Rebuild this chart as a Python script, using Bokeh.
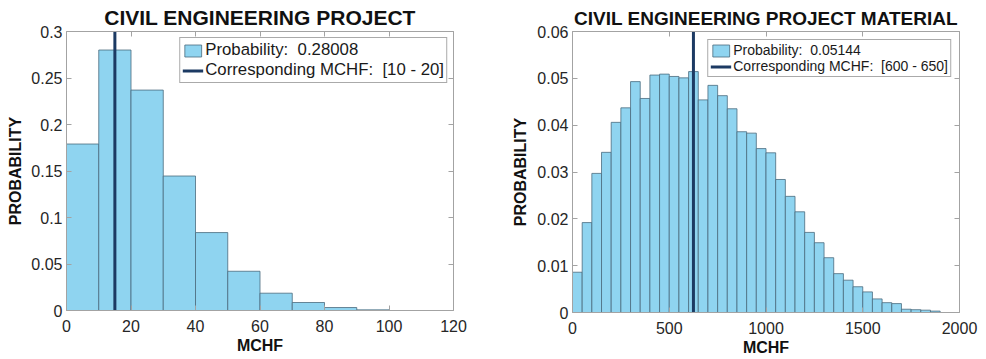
from bokeh.plotting import figure
from bokeh.models import Range1d, FixedTicker, LinearAxis, Legend, LegendItem
from bokeh.layouts import row
from bokeh.embed import file_html
from bokeh.resources import INLINE

# ---------------- data ----------------
left_title = "CIVIL ENGINEERING PROJECT"
left_edges = [0, 10, 20, 30, 40, 50, 60, 70, 80, 90, 100]
left_probs = [0.179, 0.28008, 0.237, 0.1446, 0.0838, 0.0422, 0.0186, 0.0086, 0.0032, 0.0007]
left_mark = 15
left_legend_prob = "Probability:\u00a0 0.28008"
left_legend_line = "Corresponding MCHF:\u00a0 [10 - 20]"
left_xticks = [0, 20, 40, 60, 80, 100, 120]
left_yticks = [0, 0.05, 0.1, 0.15, 0.2, 0.25, 0.3]
left_yticklabels = ["0", "0.05", "0.1", "0.15", "0.2", "0.25", "0.3"]
left_xlim = (0, 120)
left_ylim = (0, 0.3)

right_title = "CIVIL ENGINEERING PROJECT MATERIAL"
right_edges = [0, 50, 100, 150, 200, 250, 300, 350, 400, 450, 500, 550, 600, 650, 700,
               750, 800, 850, 900, 950, 1000, 1050, 1100, 1150, 1200, 1250, 1300, 1350,
               1400, 1450, 1500, 1550, 1600, 1650, 1700, 1750, 1800, 1850, 1900]
right_probs = [0.0086, 0.0192, 0.0297, 0.0342, 0.0406, 0.0437, 0.0493, 0.0457, 0.0507,
               0.0509, 0.0504, 0.0501, 0.05144, 0.0454, 0.0485, 0.0463, 0.0435, 0.0386,
               0.0383, 0.0350, 0.0341, 0.0284, 0.0248, 0.0215, 0.0171, 0.0149, 0.0117,
               0.0083, 0.0069, 0.0055, 0.0044, 0.0029, 0.0021, 0.0019, 0.0007, 0.0006,
               0.0005, 0.0003]
right_mark = 625
right_legend_prob = "Probability:\u00a0 0.05144"
right_legend_line = "Corresponding MCHF:\u00a0 [600 - 650]"
right_xticks = [0, 500, 1000, 1500, 2000]
right_yticks = [0, 0.01, 0.02, 0.03, 0.04, 0.05, 0.06]
right_yticklabels = ["0", "0.01", "0.02", "0.03", "0.04", "0.05", "0.06"]
right_xlim = (0, 2000)
right_ylim = (0, 0.06)

x_label = "MCHF"
y_label = "PROBABILITY"

FONT = "Liberation Sans"
BAR_FILL = "#8fd4f0"
BAR_EDGE = "#4a6b7e"
LINE_COL = "#1c3a63"
AX_COL = "#a3a3a3"
TXT_COL = "#262626"


def make_plot(title, edges, probs, mark, lp, ll, xticks, yticks, yticklabels, xlim, ylim,
              fh, bl, br, bt, bb, title_size, title_standoff, legend_size, row_h, legend_margin,
              ylab_standoff, legend_pad):
    p = figure(frame_width=387, frame_height=fh, output_backend="svg", toolbar_location=None,
               x_range=Range1d(*xlim), y_range=Range1d(*ylim),
               min_border_left=bl, min_border_right=br, min_border_top=bt, min_border_bottom=bb,
               x_axis_type=None, y_axis_type=None)
    p.title.text = title
    p.title.align = "center"
    p.title.text_font = FONT
    p.title.text_font_style = "bold"
    p.title.text_font_size = title_size
    p.title.text_color = "#111111"
    p.title.standoff = title_standoff
    p.title.offset = 0
    p.outline_line_color = None
    p.xgrid.visible = False
    p.ygrid.visible = False
    p.background_fill_color = "white"
    p.border_fill_color = "white"

    # main axes
    xa = LinearAxis(ticker=FixedTicker(ticks=xticks), axis_label=x_label)
    ya = LinearAxis(ticker=FixedTicker(ticks=yticks), axis_label=y_label,
                    major_label_overrides=dict(zip(yticks, yticklabels)))
    for ax in (xa, ya):
        ax.axis_line_color = AX_COL
        ax.major_tick_line_color = AX_COL
        ax.major_tick_in = 5
        ax.major_tick_out = 0
        ax.minor_tick_line_color = None
        ax.major_label_text_font = FONT
        ax.major_label_text_font_size = "16px"
        ax.major_label_text_color = TXT_COL
        ax.axis_label_text_font = FONT
        ax.axis_label_text_font_style = "bold"
        ax.axis_label_text_font_size = "16px"
        ax.axis_label_text_color = "#111111"
    xa.major_label_standoff = 9
    xa.axis_label_standoff = 2
    ya.major_label_standoff = 4
    ya.axis_label_standoff = ylab_standoff
    p.add_layout(xa, "below")
    p.add_layout(ya, "left")

    # box axes (ticks only, no labels drawn)
    xt = LinearAxis(ticker=FixedTicker(ticks=xticks))
    yr = LinearAxis(ticker=FixedTicker(ticks=yticks))
    for ax in (xt, yr):
        ax.axis_line_color = AX_COL
        ax.major_tick_line_color = AX_COL
        ax.major_tick_in = 5
        ax.major_tick_out = 0
        ax.minor_tick_line_color = None
        ax.major_label_text_color = None
        ax.major_label_text_font_size = "1px"
        ax.major_label_standoff = 0
    p.add_layout(xt, "above")
    p.add_layout(yr, "right")

    bars = p.quad(left=edges[:-1], right=edges[1:], top=probs, bottom=0,
                  fill_color=BAR_FILL, line_color=BAR_EDGE, line_width=0.8)
    vline = p.line(x=[mark, mark], y=[ylim[0], ylim[1]], line_color=LINE_COL, line_width=3)

    legend = Legend(items=[LegendItem(label=lp, renderers=[bars]),
                           LegendItem(label=ll, renderers=[vline])],
                    location="top_right")
    legend.label_text_font = FONT
    legend.label_text_font_size = legend_size
    legend.label_text_color = "#1a1a1a"
    legend.label_standoff = 2
    legend.glyph_width = 21
    legend.glyph_height = 15
    legend.label_height = row_h
    legend.spacing = 0
    legend.padding = legend_pad
    legend.margin = legend_margin
    legend.border_line_color = "#555555"
    legend.border_line_width = 1
    legend.background_fill_color = "white"
    legend.background_fill_alpha = 1
    p.add_layout(legend, "center")
    return p


p1 = make_plot(left_title, left_edges, left_probs, left_mark, left_legend_prob, left_legend_line,
               left_xticks, left_yticks, left_yticklabels, left_xlim, left_ylim,
               279, 66, 39, 30, 50, "21px", 6, "16.8px", 20, 6, 4, 2)
p2 = make_plot(right_title, right_edges, right_probs, right_mark, right_legend_prob, right_legend_line,
               right_xticks, right_yticks, right_yticklabels, right_xlim, right_ylim,
               281, 80, 19, 28, 50, "19px", 5, "14px", 16, 8, 5, 2)

layout = row(p1, p2)
open("out.html", "w").write(file_html(layout, INLINE))
